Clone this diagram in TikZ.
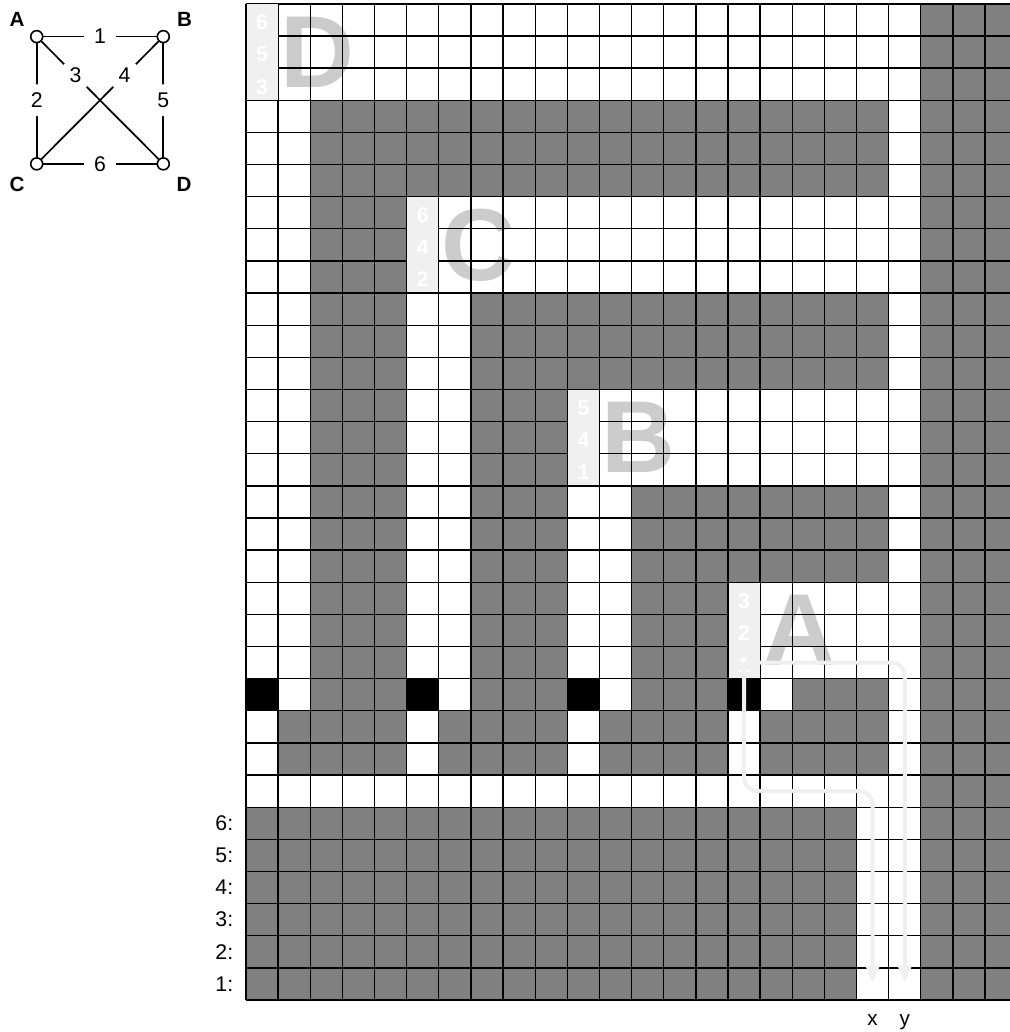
\documentclass[tikz,border=0pt]{standalone}
\usepackage{fontspec}
\setmainfont{Liberation Sans}
\usetikzlibrary{arrows.meta}

\begin{document}
\begin{tikzpicture}[
  x=0.85cm, y=0.85cm,
  graycell/.style={fill=gray},
  blackcell/.style={fill=black},
  bigletter/.style={text=black!20, inner sep=0pt, font=\fontsize{77}{80}\selectfont\bfseries},
  cellnum/.style={text=white, inner sep=0pt, font=\fontsize{16}{18}\selectfont\bfseries},
  rowlabel/.style={anchor=east, inner sep=0pt, font=\fontsize{16}{18}\selectfont},
  axislabel/.style={anchor=base, inner sep=0pt, font=\fontsize{15.5}{18}\selectfont},
  vertex/.style={circle, draw, line width=1.2pt, fill=white, minimum size=9pt, inner sep=0pt},
  vname/.style={inner sep=0pt, font=\fontsize{15.5}{18}\selectfont\bfseries},
  elabel/.style={circle, fill=white, inner sep=0pt, minimum size=24pt, font=\fontsize{16}{18}\selectfont},
  edge/.style={line width=1.3pt},
  route/.style={draw=gray!12, line width=3pt, rounded corners=10pt, -{Triangle[length=13pt, width=10pt]}}
]

\useasboundingbox (-7.656,-0.996) rectangle (23.747,31.12);
\fill[white] (-7.656,-0.996) rectangle (23.747,31.12);

% Graph
\node[vertex] (A) at (-6.514,29.98) {};
\node[vertex] (B) at (-2.574,29.98) {};
\node[vertex] (C) at (-6.514,26.02) {};
\node[vertex] (D) at (-2.574,26.02) {};

\node[vname] (nameA) at (-7.127,30.53) {A};
\node[vname] (nameB) at (-1.914,30.53) {B};
\node[vname] (nameC) at (-7.127,25.38) {C};
\node[vname] (nameD) at (-1.930,25.38) {D};

\draw[edge] (A) -- node[elabel] {1} (B);
\draw[edge] (A) -- node[elabel] {2} (C);
\draw[edge] (A) -- node[elabel, pos=0.29] {3} (D);
\draw[edge] (B) -- node[elabel, pos=0.29] {4} (C);
\draw[edge] (B) -- node[elabel] {5} (D);
\draw[edge] (C) -- node[elabel] {6} (D);

% Walls
\fill[graycell] (21,0) rectangle (24,31);
\fill[graycell] (0,0) rectangle (19,6);
\foreach \i/\ltr in {0/D, 1/C, 2/B, 3/A} {
  \fill[graycell] ({5*\i+2},{25-6*\i}) rectangle (20,{28-6*\i});
  \fill[graycell] ({5*\i+2},7) rectangle ({5*\i+5},{28-6*\i});
  \fill[graycell] ({5*\i+1},7) rectangle ({5*\i+2},9);
  \fill[blackcell] ({5*\i},9) rectangle ({5*\i+1},10);
  \node[bigletter] (big\ltr) at ({5*\i+2.22},{29.5-6*\i}) {\ltr};
}

% Grid
\draw[line width=1pt, step={(1,1)}] (0,0) grid (24,31);

% Edge numbers per vertex
\foreach \i/\ltr/\na/\nb/\nc in {0/D/6/5/3, 1/C/6/4/2, 2/B/5/4/1, 3/A/3/2/1} {
  \fill[gray!12] ({5*\i+0.02},{28-6*\i+0.02}) rectangle ({5*\i+0.98},{31-6*\i-0.02});
  \node[cellnum] (\ltr-top) at ({5*\i+0.5},{30.42-6*\i}) {\na};
  \node[cellnum] (\ltr-mid) at ({5*\i+0.5},{29.42-6*\i}) {\nb};
  \node[cellnum] (\ltr-bot) at ({5*\i+0.5},{28.42-6*\i}) {\nc};
}

% Row labels
\foreach \n in {1,...,6}
  \node[rowlabel] (row\n) at (-0.39,{\n-0.5}) {\n:};

\node[axislabel] (xlbl) at (19.5,-0.78) {x};
\node[axislabel] (ylbl) at (20.5,-0.78) {y};

% Routes
\coordinate (start) at (15.5,10.5);
\coordinate (bend) at (19.5,6.5);
\coordinate (xend) at (19.5,0.53);
\coordinate (yend) at (20.5,0.53);
\draw[route] (start) -| (yend);
\draw[route] (start) |- (bend) -- (xend);

\end{tikzpicture}
\end{document}
